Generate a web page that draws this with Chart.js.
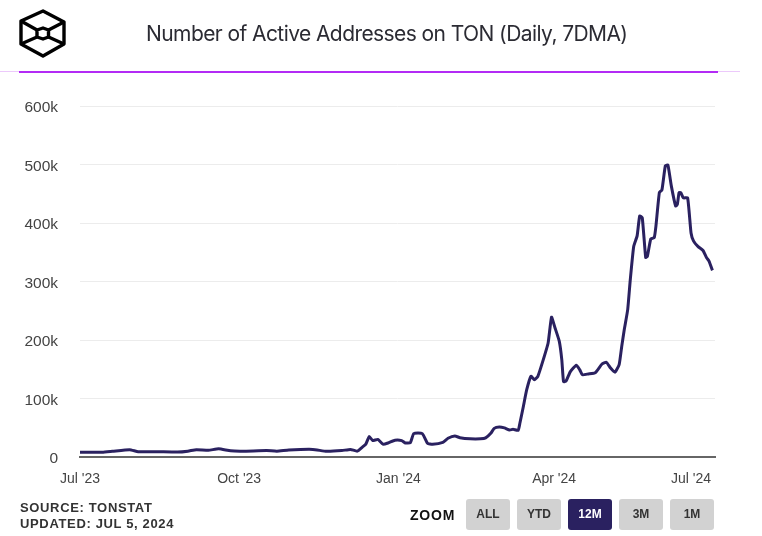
<!DOCTYPE html>
<html>
<head>
<meta charset="utf-8">
<title>Number of Active Addresses on TON</title>
<script src="https://cdn.jsdelivr.net/npm/chart.js@4"></script>
<style>
    html, body { margin: 0; padding: 0; background: #fff; }
    #wrap { position: relative; width: 762px; height: 536px; overflow: hidden; font-family: "Liberation Sans", Arial, sans-serif; }
    #tonChart { position: absolute; left: 0; top: 0; }
    #logo { position: absolute; left: 0; top: 0; }
    #title { position: absolute; left: 146px; top: 21px; font-family: "Inter", sans-serif; font-size: 21px; color: #2b2b33; white-space: nowrap; letter-spacing: -0.58px; }
    #rule-light { position: absolute; left: 0; top: 71px; width: 740px; height: 1px; background: #ecc9fb; }
    #rule { position: absolute; left: 19px; top: 71px; width: 699px; height: 2px; background: #b32bf5; }
    #source { position: absolute; left: 20px; top: 500px; font-size: 13px; line-height: 16px; font-weight: bold; color: #333; letter-spacing: 0.65px; }
    #zoom-label { position: absolute; left: 410px; top: 507px; font-size: 14px; font-weight: bold; color: #111; letter-spacing: 0.8px; }
    .btn { position: absolute; top: 499px; width: 44px; height: 31px; line-height: 31px; text-align: center; background: #d2d2d2; border-radius: 3px; font-size: 12px; font-weight: bold; color: #333; }
    .btn.on { background: #2a2160; color: #fff; }
</style>
</head>
<body>
<div id="wrap">
    <canvas id="tonChart" width="762" height="536"></canvas>
    <svg id="logo" width="80" height="70" fill="none" stroke="#000" stroke-width="3.4" stroke-linejoin="round">
        <path d="M43 11 L64 22 L64 44 L43 56 L21 44 L21 21 Z"/>
        <path d="M43 28 L48.5 30 L48.5 37 L43 39 L37 37 L37 30 Z"/>
        <path d="M21 21 L37 30 M64 22 L48.5 30 M21 44 L37 37 M64 44 L48.5 37"/>
    </svg>
    <div id="title">Number of Active Addresses on TON (Daily, 7DMA)</div>
    <div id="rule-light"></div>
    <div id="rule"></div>
    <div id="source">SOURCE: TONSTAT<br>UPDATED: JUL 5, 2024</div>
    <div id="zoom-label">ZOOM</div>
    <div class="btn" style="left:466px">ALL</div>
    <div class="btn" style="left:517px">YTD</div>
    <div class="btn on" style="left:568px">12M</div>
    <div class="btn" style="left:619px">3M</div>
    <div class="btn" style="left:670px">1M</div>
</div>
<script>
// days since Jul 1 2023
const days = [0, 4, 13, 19, 29, 34, 45, 57, 63, 68, 75, 81, 88, 95, 109, 115, 122, 136, 144, 153,
    158, 162, 165, 167, 169, 171, 174, 177, 180, 184, 188, 190, 193, 195, 200, 203, 206, 212, 215, 219,
    222, 228, 234, 237, 240, 242, 245, 248, 251, 253, 256, 257, 259, 261, 263.5, 265.5, 267.5, 270, 273.5, 275.5,
    277.5, 280, 281.5, 282.5, 284, 286.5, 290, 292, 293.5, 297, 301, 305, 307.5, 310, 312.5, 315, 316.5, 318,
    320, 321.5, 323.5, 325.5, 327, 328.5, 330.5, 331.5, 333.5, 335.5, 336.5, 338.5, 340, 342, 343.5, 345.5, 348,
    349, 350, 351, 352.5, 355, 357, 358.5, 361, 364, 366, 367.5, 369.5];
const activeAddresses = [8000, 8000, 8000, 9700, 12500, 9000, 9000, 8500, 10000, 12500, 11500, 14000, 10500, 10000, 11000, 10000, 12000, 13000, 9700, 11000,
    13000, 10000, 17000, 22000, 35000, 28000, 30000, 22000, 24000, 28600, 28000, 24000, 24500, 40000, 40000, 23400, 21700, 25000, 32000, 36000,
    33000, 31000, 31000, 32600, 40500, 49000, 51400, 49700, 46000, 47400, 45700, 57700, 86000, 115000, 138000, 132000, 138000, 160000, 195000, 239000,
    221000, 198000, 166000, 129000, 130000, 146000, 157000, 149000, 140600, 142000, 144000, 159000, 162000, 152000, 145000, 158000, 189000, 218000,
    252000, 303000, 360000, 378000, 412000, 409000, 341000, 343000, 373000, 375000, 395000, 452000, 456500, 498000, 499000, 463000, 429000,
    432000, 452000, 452000, 443000, 443000, 383000, 369000, 360000, 353000, 341000, 335000, 319000];

const xTickDays = [0, 93, 186, 277, 357];
const xTickLabels = ["Jul '23", "Oct '23", "Jan '24", "Apr '24", "Jul '24"];
const yTicks = [0, 100000, 200000, 300000, 400000, 500000, 600000];
const yTickLabels = ['0', '100k', '200k', '300k', '400k', '500k', '600k'];

const ctx = document.getElementById('tonChart').getContext('2d');
const tonChart = new Chart(ctx, {
    type: 'line',
    data: {
        datasets: [{
            data: days.map((d, i) => ({ x: d, y: activeAddresses[i] })),
            borderColor: '#2a2160',
            borderWidth: 3,
            pointRadius: 0,
            tension: 0.15,
            fill: false
        }]
    },
    options: {
        responsive: false,
        animation: false,
        layout: { padding: { top: 106, right: 47, left: 0, bottom: 0 } },
        plugins: { legend: { display: false }, tooltip: { enabled: false } },
        scales: {
            x: {
                type: 'linear',
                min: 0,
                max: 371,
                grid: { display: false },
                border: { color: '#666', width: 2 },
                afterBuildTicks: (scale) => { scale.ticks = xTickDays.map(v => ({ value: v })); },
                afterFit: (scale) => { scale.height = 79; },
                ticks: {
                    autoSkip: false,
                    maxRotation: 0,
                    padding: 6,
                    font: { family: 'Liberation Sans', size: 14 },
                    color: '#444',
                    callback: (v) => xTickLabels[xTickDays.indexOf(v)]
                }
            },
            y: {
                min: 0,
                max: 600000,
                grid: { color: '#ececec', lineWidth: 1, drawTicks: false },
                border: { display: false },
                afterBuildTicks: (scale) => { scale.ticks = yTicks.map(v => ({ value: v })); },
                afterFit: (scale) => { scale.width = 80; },
                ticks: {
                    padding: 22,
                    labelOffset: 2,
                    font: { family: 'Liberation Sans', size: 15.5 },
                    color: '#444',
                    callback: (v) => yTickLabels[yTicks.indexOf(v)]
                }
            }
        }
    }
});
</script>
</body>
</html>
